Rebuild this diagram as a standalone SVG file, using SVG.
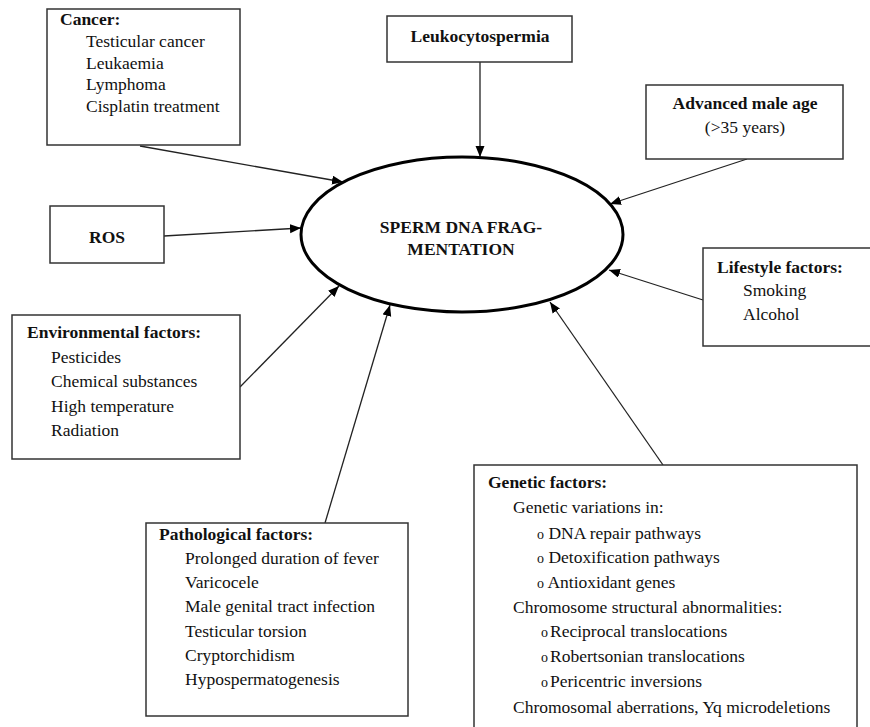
<svg xmlns="http://www.w3.org/2000/svg" width="870" height="727" viewBox="0 0 870 727">
<defs>
<marker id="arr" markerUnits="userSpaceOnUse" markerWidth="12" markerHeight="10" refX="11" refY="4.5" orient="auto">
<path d="M0,0 L11,4.5 L0,9 z" fill="#000"/>
</marker>
<style>
.box{fill:#fff;stroke:#333;stroke-width:1.5}
text{font-family:"Liberation Serif","Times New Roman",serif;font-size:17.5px;fill:#111}
.b{font-weight:bold}
.c{text-anchor:middle}
.o{font-size:14px}
.con{stroke:#222;stroke-width:1.3;fill:none;marker-end:url(#arr)}
</style>
</defs>
<rect width="870" height="727" fill="#fff"/>
<g id="connectors">
<line class="con" x1="140" y1="146" x2="343" y2="182"/>
<line class="con" x1="480" y1="62" x2="480" y2="157"/>
<line class="con" x1="747" y1="159" x2="610" y2="204"/>
<line class="con" x1="164" y1="236" x2="301" y2="228"/>
<line class="con" x1="703" y1="300" x2="609" y2="270"/>
<line class="con" x1="240" y1="387" x2="339" y2="286"/>
<line class="con" x1="325" y1="523" x2="390" y2="305"/>
<line class="con" x1="663" y1="465" x2="550" y2="302"/>
</g>
<g id="center">
<ellipse cx="462" cy="234.5" rx="161" ry="77.5" fill="#fff" stroke="#000" stroke-width="3"/>
<text class="b c" x="461" y="233">SPERM DNA FRAG-</text>
<text class="b c" x="461" y="255">MENTATION</text>
</g>
<g id="cancer">
<rect class="box" x="47" y="9" width="193" height="136"/>
<text class="b" x="60" y="25">Cancer:</text>
<text x="86" y="47">Testicular cancer</text>
<text x="86" y="68.5">Leukaemia</text>
<text x="86" y="90">Lymphoma</text>
<text x="86" y="111.5">Cisplatin treatment</text>
</g>
<g id="leukocytospermia">
<rect class="box" x="387" y="16" width="185" height="46"/>
<text class="b c" x="480" y="42">Leukocytospermia</text>
</g>
<g id="age">
<rect class="box" x="646" y="85" width="197" height="74"/>
<text class="b c" x="745" y="109">Advanced male age</text>
<text class="c" x="745" y="133">(&gt;35 years)</text>
</g>
<g id="ros">
<rect class="box" x="50" y="206" width="114" height="57"/>
<text class="b c" x="107" y="243">ROS</text>
</g>
<g id="lifestyle">
<rect class="box" x="703" y="248" width="190" height="98"/>
<text class="b" x="717" y="273">Lifestyle factors:</text>
<text x="743" y="296">Smoking</text>
<text x="743" y="320">Alcohol</text>
</g>
<g id="environmental">
<rect class="box" x="12" y="315" width="228" height="144"/>
<text class="b" x="27" y="338">Environmental factors:</text>
<text x="51" y="363">Pesticides</text>
<text x="51" y="387">Chemical substances</text>
<text x="51" y="411.5">High temperature</text>
<text x="51" y="436">Radiation</text>
</g>
<g id="pathological">
<rect class="box" x="146" y="523" width="262" height="193"/>
<text class="b" x="159" y="540">Pathological factors:</text>
<text x="185" y="564">Prolonged duration of fever</text>
<text x="185" y="588">Varicocele</text>
<text x="185" y="612">Male genital tract infection</text>
<text x="185" y="637">Testicular torsion</text>
<text x="185" y="661">Cryptorchidism</text>
<text x="185" y="685">Hypospermatogenesis</text>
</g>
<g id="genetic">
<rect class="box" x="474" y="465" width="383" height="280"/>
<text class="b" x="488" y="488">Genetic factors:</text>
<text x="513" y="513">Genetic variations in:</text>
<text x="537" y="539"><tspan class="o">o</tspan> DNA repair pathways</text>
<text x="537" y="563"><tspan class="o">o</tspan> Detoxification pathways</text>
<text x="537" y="588"><tspan class="o">o</tspan> Antioxidant genes</text>
<text x="513" y="613">Chromosome structural abnormalities:</text>
<text x="541" y="637"><tspan class="o">o</tspan><tspan dx="2">Reciprocal translocations</tspan></text>
<text x="541" y="662"><tspan class="o">o</tspan><tspan dx="2">Robertsonian translocations</tspan></text>
<text x="541" y="687"><tspan class="o">o</tspan><tspan dx="2">Pericentric inversions</tspan></text>
<text x="513" y="713">Chromosomal aberrations, Yq microdeletions</text>
</g>
</svg>
